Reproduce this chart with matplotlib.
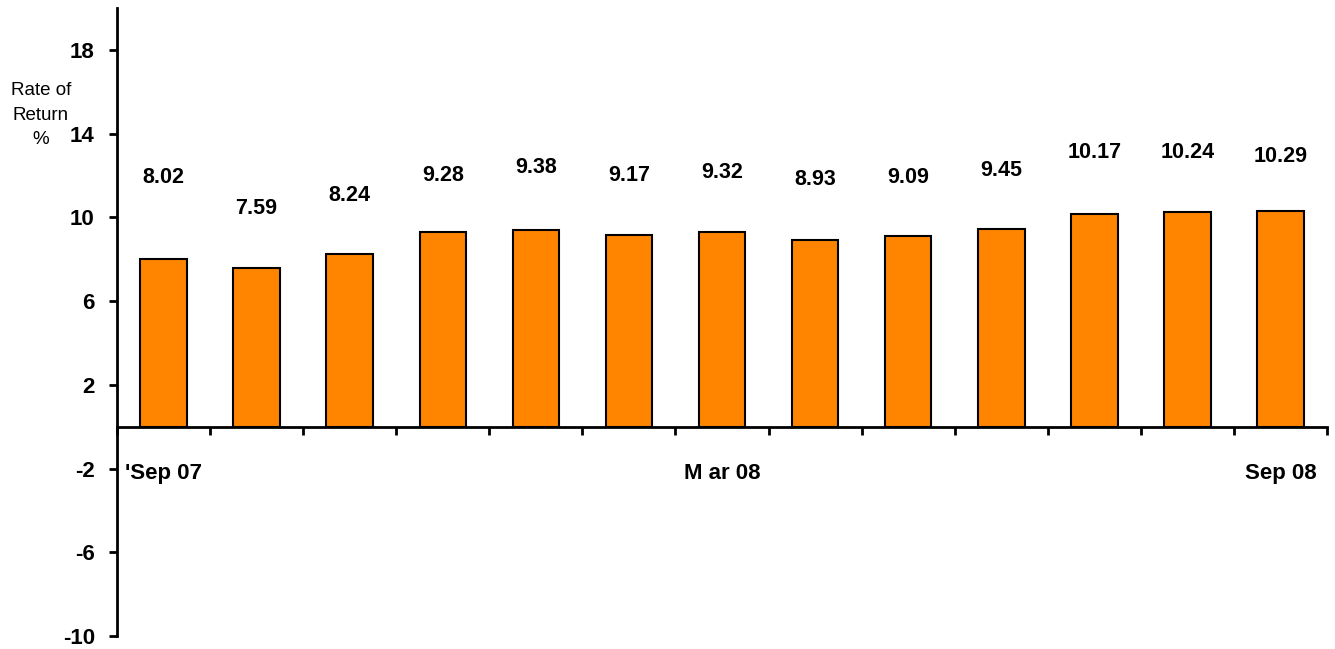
import matplotlib
matplotlib.use('Agg')
import matplotlib.pyplot as plt
import numpy as np

# monthly rate of return, Sep 07 .. Sep 08
months = ["'Sep 07", "", "", "", "", "", "M ar 08", "", "", "", "", "", "Sep 08"]
returns = [8.02, 7.59, 8.24, 9.28, 9.38, 9.17, 9.32, 8.93, 9.09, 9.45, 10.17, 10.24, 10.29]
# where the value labels sit (hand placed in the original)
label_y = [11.9, 10.4, 11.05, 12.0, 12.4, 12.0, 12.15, 11.8, 11.9, 12.25, 13.1, 13.1, 12.9]
yticks = [-10, -6, -2, 2, 6, 10, 14, 18]

plt.rcParams['font.family'] = ['Liberation Sans', 'DejaVu Sans']

fig = plt.figure(figsize=(13.35, 6.49), dpi=100)
ax = fig.add_axes([117 / 1335, 13 / 649, 1210 / 1335, 628 / 649])

x = np.arange(len(returns))
ax.bar(x, returns, width=0.5, color='#ff8500', edgecolor='black', linewidth=1.5, zorder=2)

for xi, v, ly in zip(x, returns, label_y):
    ax.text(xi, ly, f'{v:.2f}', ha='center', va='center', fontsize=15.5,
            fontweight='bold')

for xi, m in zip(x, months):
    if m:
        ax.text(xi, -2.25, m, ha='center', va='center', fontsize=16, fontweight='bold')

ax.set_xlim(-0.5, len(returns) - 0.5)
ax.set_ylim(-10, 20)
ax.set_yticks(yticks)
ax.set_yticklabels([str(t) for t in yticks], fontsize=16, fontweight='bold')
ax.set_xticks(np.arange(len(returns) + 1) - 0.5)
ax.set_xticklabels([])

ax.spines['top'].set_visible(False)
ax.spines['right'].set_visible(False)
ax.spines['bottom'].set_position(('data', 0))
ax.spines['left'].set_linewidth(2)
ax.spines['bottom'].set_linewidth(2)
ax.tick_params(axis='y', direction='out', length=6, width=2, pad=10)
ax.tick_params(axis='x', direction='out', length=6, width=2)

fig.text(41 / 1335, 1 - 115 / 649, 'Rate of\nReturn\n%', ha='center', va='center',
         fontsize=13.5, linespacing=1.55)

fig.savefig('out.png', dpi=100)
